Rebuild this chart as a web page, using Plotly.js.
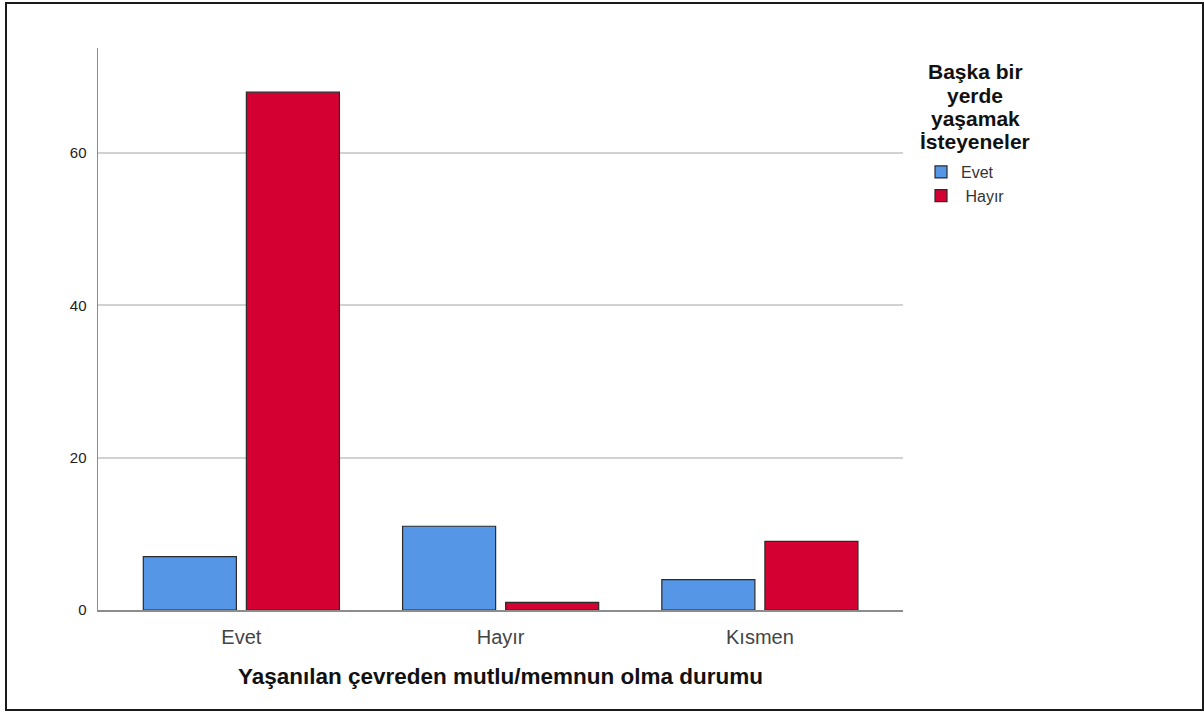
<!DOCTYPE html>
<html>
<head>
<meta charset="utf-8">
<script src="https://cdn.plot.ly/plotly-3.0.1.min.js"></script>
<style>
  html, body { margin: 0; padding: 0; background: #fff; }
  #wrap { position: relative; width: 1204px; height: 713px; }
  #chart { width: 1204px; height: 713px; }
  #frame { position: absolute; left: 5px; top: 2px; width: 1195px; height: 705px;
           border: 2px solid #1a1a1a; pointer-events: none; box-sizing: content-box; }
</style>
</head>
<body>
<div id="wrap">
  <div id="chart"></div>
  <div id="frame"></div>
</div>
<script>
const categories = ["Evet", "Hayır", "Kısmen"];
const seriesNames = ["Evet", "Hayır"];
const evetValues = [7, 11, 4];
const hayirValues = [68, 1, 9];
const yTicks = [0, 20, 40, 60];
const legendTitleLines = ["Başka bir", "yerde", "yaşamak", "İsteyeneler"];

const colors = ["#5596e6", "#d50032"];

const traces = [
  { type: "bar", name: seriesNames[0], x: categories, y: evetValues,
    marker: { color: colors[0], line: { color: "#2b2b2b", width: 1.2 } } },
  { type: "bar", name: "\u00a0" + seriesNames[1], x: categories, y: hayirValues,
    marker: { color: colors[1], line: { color: "#2b2b2b", width: 1.2 } } }
];

// plot area in pixels: x 98..903, y 48..610
const plotL = 98, plotR = 903, plotT = 48, plotB = 610;
const px2x = p => (p - plotL) / (plotR - plotL);
const px2y = p => (plotB - p) / (plotB - plotT);

const titleYs = [72, 95, 118, 141];
const annotations = legendTitleLines.map((t, i) => ({
  text: "<b>" + t + "</b>",
  xref: "paper", yref: "paper",
  x: px2x(975), y: px2y(titleYs[i]),
  xanchor: "center", yanchor: "middle",
  showarrow: false,
  font: { size: 21, color: "#111", family: "Liberation Sans, Arial, sans-serif" }
}));

const layout = {
  width: 1204, height: 713,
  margin: { l: plotL, r: 1204 - plotR, t: plotT, b: 713 - plotB, pad: 0 },
  paper_bgcolor: "#ffffff", plot_bgcolor: "#ffffff",
  font: { family: "Liberation Sans, Arial, sans-serif", color: "#222" },
  barmode: "group",
  bargap: 0.205,
  bargroupgap: 0.097,
  showlegend: true,
  annotations: annotations,
  xaxis: {
    type: "category",
    range: [-0.553, 2.552],
    showgrid: false, zeroline: false,
    showline: true, linecolor: "#8c8c8c", linewidth: 1.5,
    ticks: "", ticklen: 0,
    ticklabelstandoff: 8,
    tickfont: { size: 20, color: "#444" },
    title: { text: "Yaşanılan çevreden mutlu/memnun olma durumu",
             font: { size: 22.5, color: "#111", family: "Liberation Sans, Arial, sans-serif", weight: "bold" },
             standoff: 21 }
  },
  yaxis: {
    range: [0, 73.8],
    tickvals: yTicks, ticktext: yTicks.map(String),
    showgrid: true, gridcolor: "#d2d2d2", gridwidth: 1.8,
    zeroline: false,
    showline: true, linecolor: "#8c8c8c", linewidth: 1.5,
    ticks: "", ticklen: 0,
    ticklabelstandoff: 7,
    tickfont: { size: 15, color: "#222" }
  },
  legend: {
    x: px2x(921), xanchor: "left", y: px2y(155), yanchor: "top",
    xref: "paper", yref: "paper",
    bgcolor: "rgba(0,0,0,0)",
    font: { size: 16, color: "#333" },
    itemwidth: 30,
    tracegroupgap: 0
  }
};

Plotly.newPlot("chart", traces, layout, { displayModeBar: false, staticPlot: true });
</script>
</body>
</html>
